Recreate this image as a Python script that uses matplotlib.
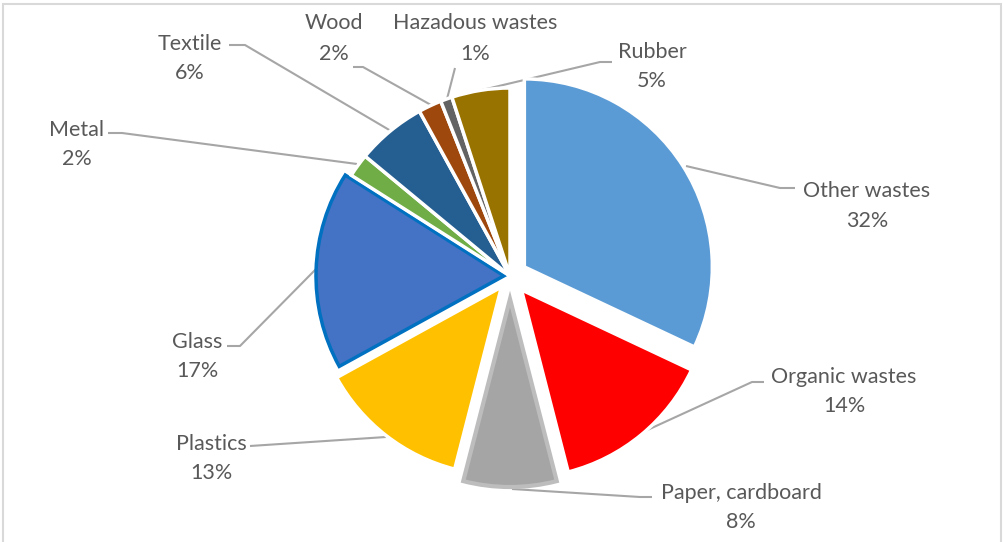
import matplotlib
matplotlib.use("Agg")
import matplotlib.pyplot as plt
from matplotlib.patches import Rectangle

categories = ["Other wastes", "Organic wastes", "Paper, cardboard", "Plastics", "Glass",
              "Metal", "Textile", "Wood", "Hazadous wastes", "Rubber"]
values = [32, 14, 8, 13, 17, 2, 6, 2, 1, 5]
colors = ["#5B9BD5", "#FF0000", "#A5A5A5", "#FFC000", "#4472C4",
          "#70AD47", "#255E91", "#9E480E", "#636363", "#997300"]

W, H = 1004, 542
fig = plt.figure(figsize=(W / 100, H / 100), dpi=100)
ax = fig.add_axes([0, 0, 1, 1])

def Y(y):
    return H - y

cx, cy, R = 510, 276, 188
explode_px = [17, 18, 23, 14, 6, 0, 0, 0, 0, 0]

wedges, _ = ax.pie(values, colors=colors, startangle=90, counterclock=False,
                   radius=R, center=(cx, Y(cy)), explode=explode_px,
                   wedgeprops=dict(edgecolor="white", linewidth=2.5))
ax.set_xlim(0, W)
ax.set_ylim(0, H)
ax.set_aspect("equal")
ax.axis("off")

# glass blue outline, paper soft grey outline
wedges[4].set_edgecolor("#0070C0")
wedges[4].set_linewidth(2.5)
wedges[2].set_edgecolor("#BDBDBD")
wedges[2].set_linewidth(3.0)

# chart frame
ax.add_patch(Rectangle((3, Y(548)), 998, 544, fill=False, edgecolor="#D9D9D9",
                       linewidth=1.5, clip_on=False))

txt_color = "#595959"
line_color = "#A6A6A6"
fs = 15.5
font = "Lato"

label_pos = {
    "Other wastes": (867, 191, 221),
    "Organic wastes": (844, 377, 406),
    "Paper, cardboard": (741, 493, 522),
    "Plastics": (211, 444, 473),
    "Glass": (197, 342, 371),
    "Metal": (77, 130, 159),
    "Textile": (190, 44, 73),
    "Wood": (334, 23, 54),
    "Hazadous wastes": (475, 23, 54),
    "Rubber": (652, 52, 81),
}
leaders = {
    "Other wastes": [(686, 166), (780, 188), (795, 188)],
    "Organic wastes": [(643, 432), (752, 382), (764, 382)],
    "Paper, cardboard": [(512, 489), (640, 497), (652, 497)],
    "Plastics": [(386, 437), (250, 446)],
    "Glass": [(317, 268), (240, 346), (227, 346)],
    "Metal": [(357, 164), (122, 133), (108, 133)],
    "Textile": [(391, 131), (245, 45), (229, 45)],
    "Wood": [(431, 105), (363, 67), (353, 67)],
    "Hazadous wastes": [(447, 99), (455, 68)],
    "Rubber": [(482, 90), (600, 62), (612, 62)],
}

total = sum(values)
for name, v in zip(categories, values):
    x, y1, y2 = label_pos[name]
    ax.text(x, Y(y1), name, ha="center", va="center", fontsize=fs,
            color=txt_color, family=font)
    ax.text(x, Y(y2), f"{round(100 * v / total)}%", ha="center", va="center",
            fontsize=fs, color=txt_color, family=font)
    pts = leaders[name]
    ax.plot([p[0] for p in pts], [Y(p[1]) for p in pts], color=line_color,
            linewidth=1.5, solid_capstyle="butt", zorder=0.5)

fig.savefig("out.png", dpi=100)
